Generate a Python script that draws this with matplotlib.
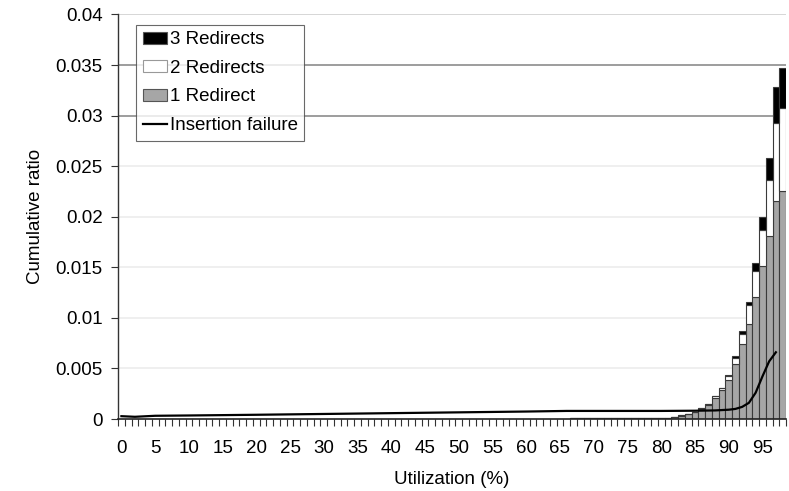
import numpy as np
import matplotlib
matplotlib.use('Agg')
import matplotlib.pyplot as plt
from matplotlib.patches import Patch
from matplotlib.lines import Line2D

plt.rcParams['font.family'] = ['Liberation Sans', 'DejaVu Sans']

# utilization categories on the x axis (0..98 %)
n_cat = 99
xtick_vals = [0, 5, 10, 15, 20, 25, 30, 35, 40, 45, 50, 55, 60, 65, 70, 75, 80, 85, 90, 95]

# bars only visible from 67 % upwards
bar_util = [67, 68, 69, 70, 71, 72, 73, 74, 75, 76, 77, 78, 79, 80, 81, 82,
            83, 84, 85, 86, 87, 88, 89, 90, 91, 92, 93, 94, 95, 96, 97, 98]
one_redirect = [0.0001, 0.0001, 0.0001, 0.0001, 0.0001, 0.0001, 0.0001, 0.0001,
                0.00015, 0.00015, 0.00015, 0.00015, 0.0001, 0.0001, 0.00015, 0.0002,
                0.00033, 0.0005, 0.00065, 0.001, 0.0014, 0.0021, 0.0029, 0.0039,
                0.0054, 0.0074, 0.0094, 0.0121, 0.0151, 0.0181, 0.0216, 0.0225]
two_redirects = [0, 0, 0, 0, 0, 0, 0, 0, 0, 0, 0, 0, 0, 0, 0, 0,
                 0.00002, 0.00002, 0.00005, 0.0001, 0.0001, 0.00013, 0.00015, 0.00032,
                 0.00063, 0.00098, 0.00184, 0.00255, 0.00359, 0.00554, 0.00767, 0.00825]
three_redirects = [0, 0, 0, 0, 0, 0, 0, 0, 0, 0, 0, 0, 0, 0, 0, 0,
                   0, 0, 0, 0.00002, 0.00002, 0.00003, 0.00005, 0.00017,
                   0.0002, 0.00032, 0.00034, 0.00074, 0.00131, 0.00216, 0.00353, 0.00395]

# insertion failure curve
fail_util = [0, 2, 5, 10, 20, 30, 40, 50, 60, 66, 70, 75, 80, 85, 88, 90,
             91, 92, 93, 94, 95, 96, 97]
fail_ratio = [0.00028, 0.00022, 0.00032, 0.00035, 0.00042, 0.0005, 0.00058, 0.00066,
              0.00074, 0.0008, 0.0008, 0.0008, 0.0008, 0.00082, 0.00085, 0.00092,
              0.001, 0.0012, 0.0016, 0.0026, 0.0042, 0.0057, 0.0066]

grid_levels = [0.005, 0.01, 0.015, 0.02, 0.025, 0.03, 0.035, 0.04]
grid_colors = ['#ececec', '#ececec', '#ececec', '#ececec', '#ececec', '#8c8c8c', '#8c8c8c', '#cfcfcf']

fs = 13.5

fig = plt.figure(figsize=(7.89, 4.91), dpi=100)
ax = fig.add_axes([0.1496, 0.1466, 0.8466, 0.8239])

for lev, col in zip(grid_levels, grid_colors):
    ax.axhline(lev, color=col, lw=1.2, zorder=0)

one = np.array(one_redirect)
two = np.array(two_redirects)
three = np.array(three_redirects)
edge = '#3a3a3a'
ax.bar(bar_util, one, width=1.0, color='#a6a6a6', edgecolor=edge, lw=0.8, zorder=2)
ax.bar(bar_util, two, bottom=one, width=1.0, color='white', edgecolor=edge, lw=0.8, zorder=2)
ax.bar(bar_util, three, bottom=one + two, width=1.0, color='black', edgecolor=edge, lw=0.8, zorder=2)
ax.plot(fail_util, fail_ratio, color='black', lw=1.6, zorder=3)

ax.set_xlim(-0.5, n_cat - 0.5)
ax.set_ylim(0, 0.04)

ax.set_xticks(xtick_vals)
ax.set_xticklabels([str(v) for v in xtick_vals], fontsize=fs)
ax.set_xticks(np.arange(-0.5, n_cat, 1.0), minor=True)
ax.tick_params(axis='x', which='major', length=0, pad=15)
ax.tick_params(axis='x', which='minor', length=5, width=0.8, direction='out', color='#333333')

ax.set_yticks([0, 0.005, 0.01, 0.015, 0.02, 0.025, 0.03, 0.035, 0.04])
ax.set_yticklabels(['0', '0.005', '0.01', '0.015', '0.02', '0.025', '0.03', '0.035', '0.04'], fontsize=fs)
ax.tick_params(axis='y', length=5, width=0.8, direction='out', pad=6, color='#333333')

for s in ['top', 'right']:
    ax.spines[s].set_visible(False)
ax.spines['left'].set_color('#333333')
ax.spines['bottom'].set_color('#222222')
ax.spines['left'].set_linewidth(1.0)
ax.spines['bottom'].set_linewidth(1.2)

ax.set_xlabel('Utilization (%)', fontsize=fs, labelpad=10)
ax.set_ylabel('Cumulative ratio', fontsize=fs, labelpad=8)

handles = [Patch(facecolor='black', edgecolor='#555555', lw=0.8),
           Patch(facecolor='white', edgecolor='#999999', lw=0.8),
           Patch(facecolor='#a6a6a6', edgecolor='#555555', lw=0.8),
           Line2D([0], [0], color='black', lw=1.6)]
labels = ['3 Redirects', '2 Redirects', '1 Redirect', 'Insertion failure']
leg = ax.legend(handles, labels, loc='upper left', bbox_to_anchor=(0.027, 0.975),
                fontsize=fs, frameon=True, fancybox=False, handlelength=1.3,
                handleheight=0.6, handletextpad=0.15, labelspacing=0.62,
                borderpad=0.35, borderaxespad=0)
leg.get_frame().set_edgecolor('#444444')
leg.get_frame().set_linewidth(0.8)
leg.set_zorder(5)

fig.savefig('out.png', dpi=100)
